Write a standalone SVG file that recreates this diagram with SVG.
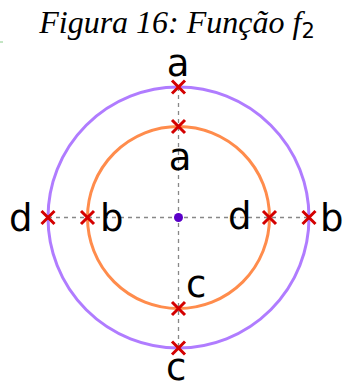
<svg xmlns="http://www.w3.org/2000/svg" width="347" height="383" viewBox="0 0 347 383">
<style>
.lbl{font-family:"DejaVu Sans",sans-serif;font-size:37px;fill:#000}
.dash{stroke:#888;stroke-width:1.3;stroke-dasharray:4,4;fill:none}
.x{stroke:#d40000;stroke-width:3;fill:none}
</style>
<defs>
<path id="xm" class="x" d="M-6.5,-6.5L6.5,6.5M-6.5,6.5L6.5,-6.5"/>
</defs>
<rect width="347" height="383" fill="#fff"/>
<line x1="0" y1="42" x2="3" y2="42" stroke="#8c8" stroke-width="1"/>
<text x="177" y="33" text-anchor="middle" font-family="Liberation Serif,serif" font-style="italic" font-size="32">Figura 16: Função f<tspan font-family="DejaVu Sans,sans-serif" font-style="normal" font-size="21" dy="5">2</tspan></text>
<g id="connectors">
<line class="dash" x1="178.5" y1="87" x2="178.5" y2="348"/>
<line class="dash" x1="48" y1="217.5" x2="309" y2="217.5"/>
</g>
<g id="outer"><circle cx="178.5" cy="217.5" r="130.5" fill="none" stroke="#b07cff" stroke-width="3"/></g>
<g id="inner"><circle cx="178.5" cy="217.5" r="91" fill="none" stroke="#ff8c4c" stroke-width="3"/></g>
<g id="center"><circle cx="178.5" cy="217.5" r="4.5" fill="#5a00c8"/></g>
<g id="markers">
<use href="#xm" x="178.5" y="87"/>
<use href="#xm" x="178.5" y="126.5"/>
<use href="#xm" x="178.5" y="308.5"/>
<use href="#xm" x="178.5" y="348"/>
<use href="#xm" x="48" y="217.5"/>
<use href="#xm" x="87.5" y="217.5"/>
<use href="#xm" x="269.5" y="217.5"/>
<use href="#xm" x="309" y="217.5"/>
</g>
<g id="labels">
<text class="lbl" x="178" y="76" text-anchor="middle">a</text>
<text class="lbl" x="180" y="170" text-anchor="middle">a</text>
<text class="lbl" x="9" y="231">d</text>
<text class="lbl" x="100" y="231">b</text>
<text class="lbl" x="228" y="229">d</text>
<text class="lbl" x="320" y="231">b</text>
<text class="lbl" x="186" y="297">c</text>
<text class="lbl" x="166" y="380">c</text>
</g>
</svg>
